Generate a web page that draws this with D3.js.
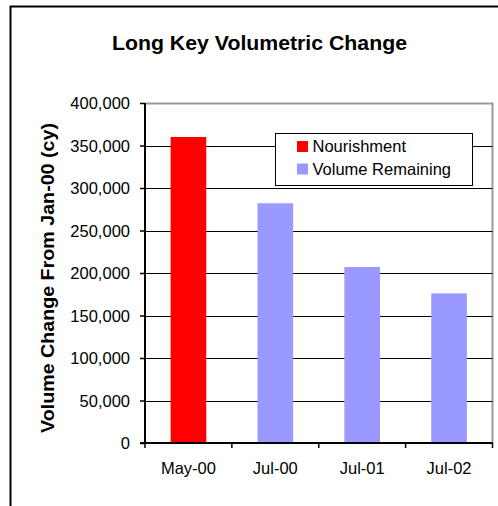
<!DOCTYPE html>
<html>
<head>
<meta charset="utf-8">
<script src="https://cdn.jsdelivr.net/npm/d3@7"></script>
<style>
  body { margin: 0; background: #fff; }
  svg { display: block; }
  text { font-family: "Liberation Sans", Arial, sans-serif; fill: #000; }
</style>
</head>
<body>
<svg id="chart" width="498" height="506"></svg>
<script>
// data
const categories = ["May-00", "Jul-00", "Jul-01", "Jul-02"];
const values = [360000, 282000, 207000, 176000];
const series = ["Nourishment", "Volume Remaining", "Volume Remaining", "Volume Remaining"];
const legendItems = ["Nourishment", "Volume Remaining"];
const colors = { "Nourishment": "#ff0000", "Volume Remaining": "#9999ff" };
const yTicks = [0, 50000, 100000, 150000, 200000, 250000, 300000, 350000, 400000];

const svg = d3.select("#chart");
const margin = { top: 103, right: 5.5, bottom: 63, left: 145 };
const width = +svg.attr("width") - margin.left - margin.right;
const height = +svg.attr("height") - margin.top - margin.bottom;

// outer chart border (only left and top visible)
svg.append("line").attr("x1", 10.5).attr("x2", 10.5).attr("y1", 6).attr("y2", 506)
  .attr("stroke", "#000").attr("stroke-width", 2);
svg.append("line").attr("x1", 10).attr("x2", 498).attr("y1", 6.5).attr("y2", 6.5)
  .attr("stroke", "#000").attr("stroke-width", 2);

// title
svg.append("text")
  .attr("x", 259.5).attr("y", 50)
  .attr("text-anchor", "middle")
  .attr("textLength", 295).attr("lengthAdjust", "spacingAndGlyphs")
  .style("font-size", "20.5px").style("font-weight", "bold")
  .text("Long Key Volumetric Change");

const g = svg.append("g").attr("transform", `translate(${margin.left},${margin.top})`);

const x = d3.scaleBand().domain(categories).range([0, width]).paddingInner(0.59).paddingOuter(0.295);
const y = d3.scaleLinear().domain([0, 400000]).range([height, 0]);

// plot area border (gray, top and right)
g.append("path")
  .attr("d", `M0,0.5H${width}V${height}`)
  .attr("fill", "none").attr("stroke", "#999").attr("stroke-width", 2);

// gridlines
g.selectAll(".grid")
  .data(yTicks.filter(d => d > 0 && d < 400000))
  .enter().append("line")
  .attr("class", "grid")
  .attr("x1", 0).attr("x2", width)
  .attr("y1", d => Math.round(y(d)) + 0.5).attr("y2", d => Math.round(y(d)) + 0.5)
  .attr("stroke", "#000").attr("stroke-width", 1);

// bars
g.selectAll(".bar")
  .data(values)
  .enter().append("rect")
  .attr("class", "bar")
  .attr("x", (d, i) => x(categories[i]))
  .attr("width", x.bandwidth())
  .attr("y", d => y(d))
  .attr("height", d => height - y(d))
  .attr("fill", (d, i) => colors[series[i]]);

// y axis
const yAxis = g.append("g")
  .call(d3.axisLeft(y).tickValues(yTicks).tickSize(5).tickPadding(10).tickFormat(d3.format(",")));
yAxis.select(".domain").attr("stroke", "#000").attr("stroke-width", 2).attr("d", `M0,0V${height}`);
yAxis.selectAll(".tick line").attr("stroke", "#000").attr("stroke-width", 1.5);
yAxis.selectAll("text").style("font-size", "16.5px").attr("dy", "0.35em");

// x axis with ticks between categories
const xAxis = g.append("g").attr("transform", `translate(0,${height})`);
xAxis.append("line").attr("x1", -5).attr("x2", width).attr("y1", 0).attr("y2", 0)
  .attr("stroke", "#000").attr("stroke-width", 2);
const step = x.step();
xAxis.selectAll(".xtick")
  .data(d3.range(categories.length + 1))
  .enter().append("line")
  .attr("x1", i => i * step).attr("x2", i => i * step)
  .attr("y1", 0).attr("y2", 5)
  .attr("stroke", "#000").attr("stroke-width", 1.5);
xAxis.selectAll(".xlabel")
  .data(categories)
  .enter().append("text")
  .attr("x", d => x(d) + x.bandwidth() / 2)
  .attr("y", 25)
  .attr("dy", "0.35em")
  .attr("text-anchor", "middle")
  .style("font-size", "16.5px")
  .text(d => d);

// y axis title
svg.append("text")
  .attr("transform", "translate(48,278) rotate(-90)")
  .attr("text-anchor", "middle")
  .attr("dy", "0.35em")
  .attr("textLength", 310).attr("lengthAdjust", "spacingAndGlyphs")
  .style("font-size", "18px").style("font-weight", "bold")
  .text("Volume Change From Jan-00 (cy)");

// legend
const legend = svg.append("g").attr("transform", "translate(275,133)");
legend.append("rect")
  .attr("x", 0.5).attr("y", 0.5).attr("width", 197).attr("height", 52)
  .attr("fill", "#fff").attr("stroke", "#000").attr("stroke-width", 1);
legendItems.forEach((name, i) => {
  legend.append("rect")
    .attr("x", 22).attr("y", 8 + i * 22.5)
    .attr("width", 11).attr("height", 11)
    .attr("fill", colors[name]);
  legend.append("text")
    .attr("x", 37.5).attr("y", 13.5 + i * 22.5)
    .attr("dy", "0.35em")
    .style("font-size", "16.5px")
    .text(name);
});
</script>
</body>
</html>
